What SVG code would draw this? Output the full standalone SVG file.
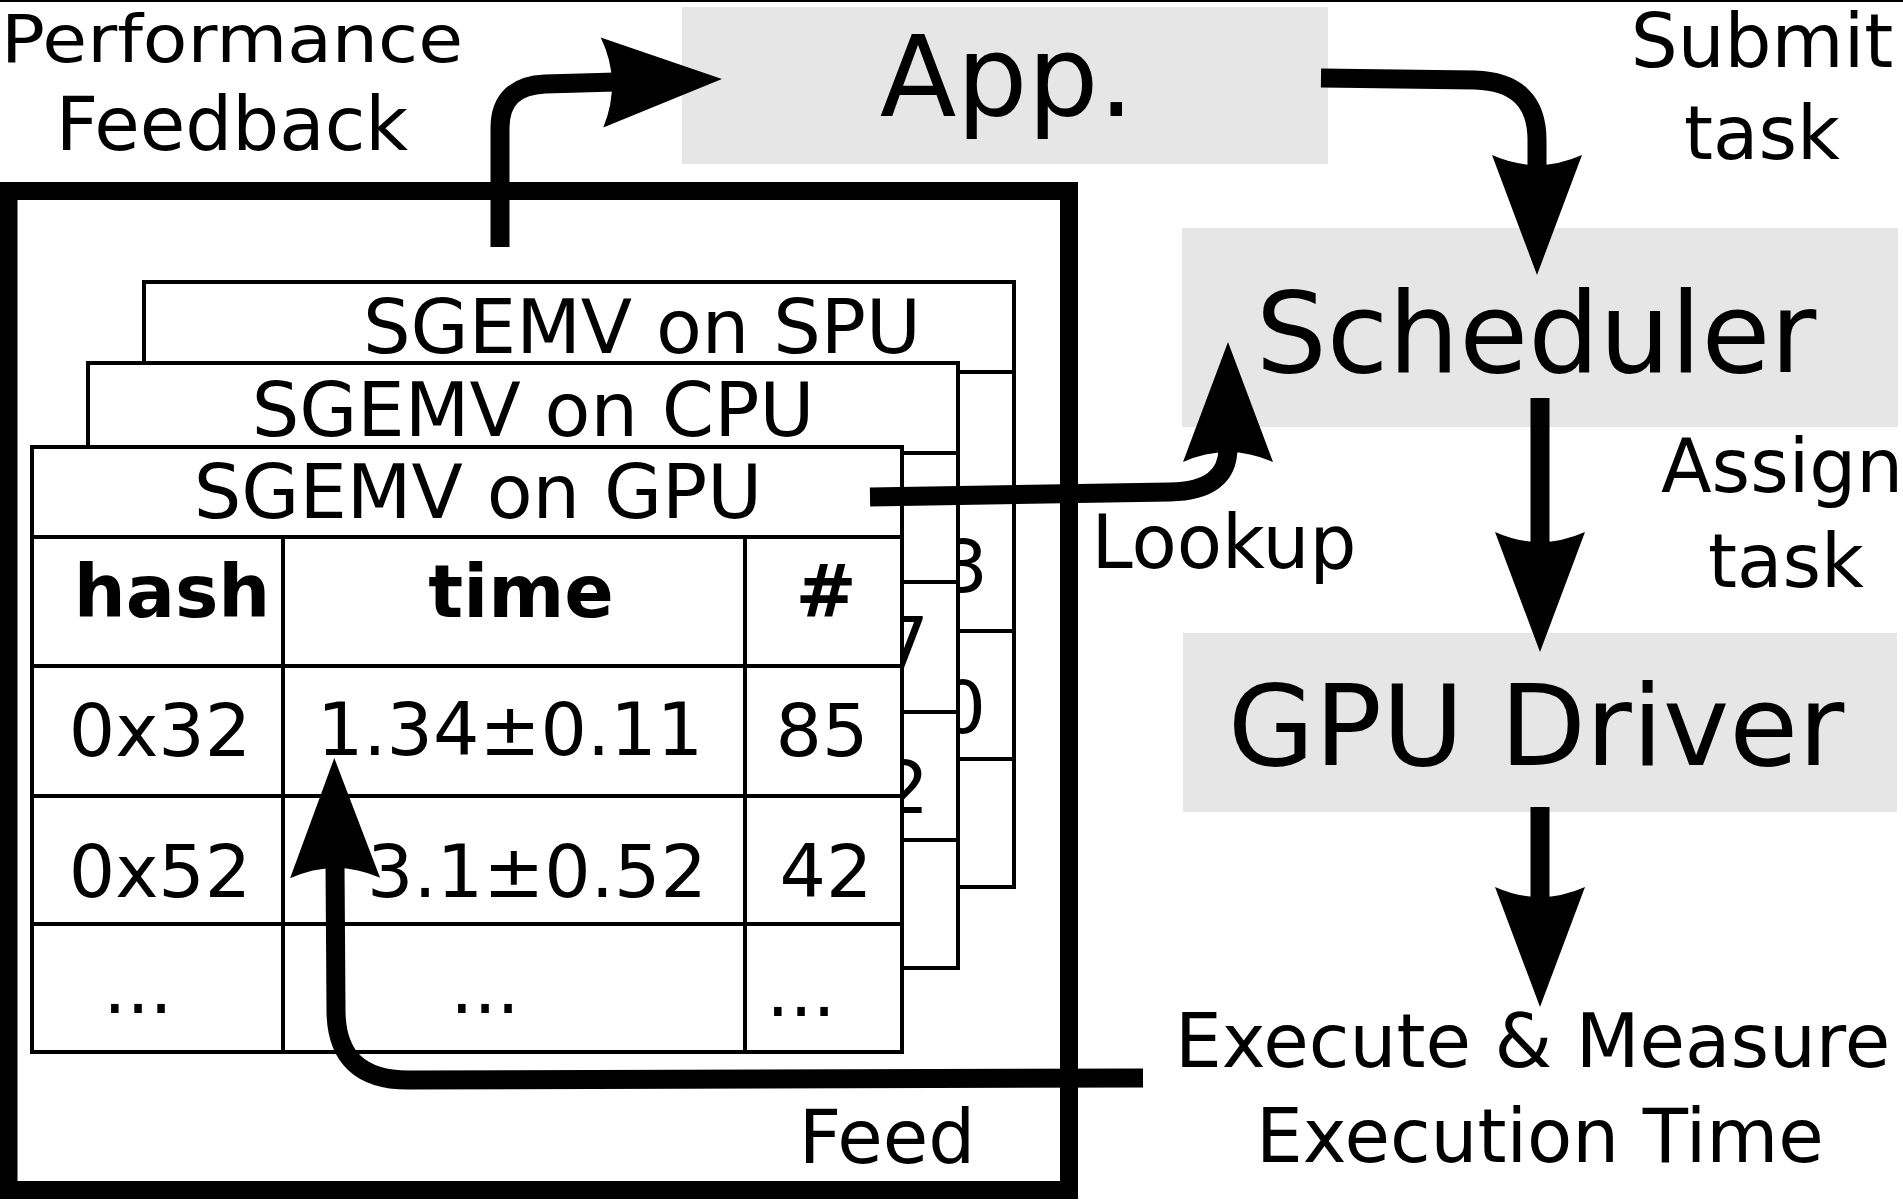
<svg xmlns="http://www.w3.org/2000/svg" width="1903" height="1202" viewBox="0 0 1903 1202">
<style>
text{font-family:"DejaVu Sans","Liberation Sans",sans-serif;fill:#000}
.lbl{font-size:74px}
.big{font-size:112px;text-anchor:middle}
.t{font-size:73px;text-anchor:middle}
.ttl{font-size:75px;text-anchor:middle}
.d{font-size:73px;text-anchor:end}
.b{font-weight:bold}
.mid{text-anchor:middle}
.box{fill:#e6e6e6}
.tbl{fill:#fff;stroke:#000;stroke-width:4}
.ln{stroke:#000;stroke-width:4;fill:none}
.conn{fill:none;stroke:#000;stroke-width:19;marker-end:url(#ah)}
</style>
<defs>
<marker id="ah" markerUnits="userSpaceOnUse" viewBox="-14 -46 122 92" markerWidth="122" markerHeight="92" refX="0" refY="0" orient="auto" overflow="visible">
<path d="M106,0 L-14,-45 Q6,0 -14,45 Z" fill="#000"/>
</marker>
</defs>
<rect x="0" y="0" width="1903" height="2" fill="#000"/>

<g id="node-history">
<rect x="8.5" y="191" width="1060.5" height="999" fill="none" stroke="#000" stroke-width="18"/>
<text class="lbl mid" x="887" y="1163">Feed</text>
</g>

<g id="node-table-spu">
<rect class="tbl" x="144" y="282" width="870" height="605"/>
<path class="ln" d="M144,372H1014M144,501H1014M144,631H1014M144,759H1014M395,372V887M857,372V887"/>
<text class="ttl" x="642" y="353">SGEMV on SPU</text>
<text class="d" x="988" y="592">3</text>
<text class="d" x="986" y="733">0</text>
</g>

<g id="node-table-cpu">
<rect class="tbl" x="88" y="363" width="870" height="605"/>
<path class="ln" d="M88,453H958M88,582H958M88,712H958M88,840H958M339,453V968M801,453V968"/>
<text class="ttl" x="533" y="436">SGEMV on CPU</text>
<text class="d" x="929" y="669">7</text>
<text class="d" x="929" y="813">2</text>
</g>

<g id="node-table-gpu">
<rect class="tbl" x="32" y="447" width="870" height="605"/>
<path class="ln" d="M32,537H902M32,666H902M32,796H902M32,924H902M283,537V1052M745,537V1052"/>
<text class="ttl" x="478" y="518">SGEMV on GPU</text>
<text class="t b" x="172" y="617">hash</text>
<text class="t b" x="521" y="617">time</text>
<text class="t b" x="826" y="617">#</text>
<text class="t" x="160" y="756">0x32</text>
<text class="t" x="510" y="755">1.34±0.11</text>
<text class="t" x="822" y="756">85</text>
<text class="t" x="160" y="897">0x52</text>
<text class="t" x="537" y="897">3.1±0.52</text>
<text class="t" x="826" y="897">42</text>
<text class="t" x="138" y="1013">...</text>
<text class="t" x="485" y="1013">...</text>
<text class="t" x="801" y="1016">...</text>
</g>

<g id="node-app">
<rect class="box" x="682" y="7" width="646" height="157"/>
<text class="big" x="1007" y="116">App.</text>
</g>

<g id="node-scheduler">
<rect class="box" x="1182" y="228" width="716" height="199"/>
<text class="big" x="1536" y="372">Scheduler</text>
</g>

<g id="node-gpudriver">
<rect class="box" x="1183" y="633" width="714" height="179"/>
<text class="big" x="1536" y="765">GPU Driver</text>
</g>

<g id="node-execute">
<text class="lbl" x="1175" y="1067" font-size="75">Execute &amp; Measure</text>
<text class="lbl mid" x="1540" y="1162">Execution Time</text>
</g>

<g id="connectors">
<path class="conn" d="M500,247 L500,128 Q500,86 545,84 L616,82"/>
<path class="conn" d="M1321,78 L1475,80 Q1537,82 1537,140 L1537,169"/>
<path class="conn" d="M1540,398 L1540,546"/>
<path class="conn" d="M1540,807 L1540,901"/>
<path class="conn" d="M870,497 L1170,492 Q1228,491 1228,448"/>
<path class="conn" d="M1143,1078 L410,1080 Q336,1081 336,1010 L335,864"/>
</g>

<g id="labels">
<text x="232" y="62" font-size="65" text-anchor="middle" textLength="462" lengthAdjust="spacingAndGlyphs">Performance</text>
<text class="lbl mid" x="232" y="150">Feedback</text>
<text class="lbl mid" x="1762" y="67">Submit</text>
<text class="lbl mid" x="1762" y="159">task</text>
<text class="lbl" x="1661" y="492">Assign</text>
<text class="lbl mid" x="1786" y="587">task</text>
<text class="lbl mid" x="1224" y="568">Lookup</text>
</g>
</svg>
